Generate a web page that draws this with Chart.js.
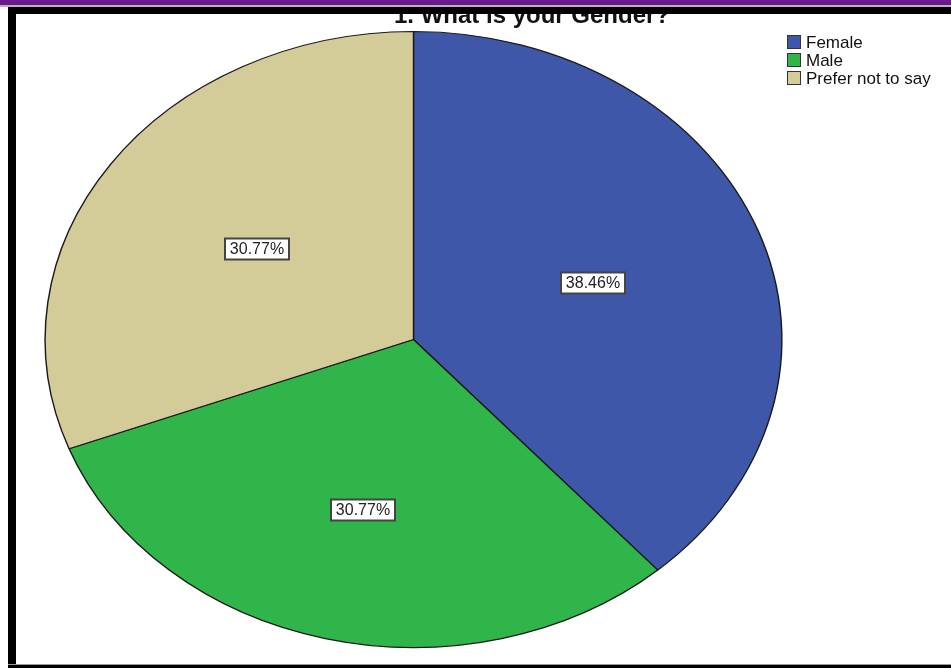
<!DOCTYPE html>
<html lang="en">
<head>
  <meta charset="UTF-8">
  <title>1. What is your Gender?</title>
  <script src="https://cdn.jsdelivr.net/npm/chart.js"></script>
  <style>
    html, body { margin: 0; padding: 0; background: #fff; }
    .marco { position: relative; width: 951px; height: 668px; overflow: hidden; }
    #grafico { position: absolute; left: 0; top: 0; }
    .barra { position: absolute; z-index: 2; }
  </style>
</head>
<body>
  <div class="marco">
    <canvas id="grafico" width="951" height="668"></canvas>
    <div class="barra" style="left:0;top:0;width:951px;height:5px;background:#6b1a8b"></div>
    <div class="barra" style="left:0;top:5px;width:951px;height:2px;background:#b9b0bd"></div>
    <div class="barra" style="left:8px;top:7px;width:943px;height:7px;background:#000"></div>
    <div class="barra" style="left:8px;top:7px;width:8px;height:661px;background:#000"></div>
    <div class="barra" style="left:8px;top:664px;width:943px;height:1px;background:#999"></div>
    <div class="barra" style="left:8px;top:665px;width:943px;height:3px;background:#000"></div>
  </div>

  <script>
    // Datos
    const titulo = '1. What is your Gender?';
    const categorias = ['Female', 'Male', 'Prefer not to say'];
    const valores = [5, 4, 4];
    const colores = ['#3f57a9', '#2fb549', '#d3cc99'];

    const total = valores.reduce((a, b) => a + b, 0);
    const porcentajes = valores.map(v => (v / total * 100).toFixed(2) + '%');

    const estirar = 1.196; // la torta es una elipse
    const fuente = '"Liberation Sans", Arial, sans-serif';

    const elipse = {
      id: 'elipse',
      beforeDatasetsDraw(chart) {
        const arc = chart.getDatasetMeta(0).data[0];
        const ctx = chart.ctx;
        ctx.save();
        ctx.translate(arc.x, arc.y);
        ctx.scale(estirar, 1);
        ctx.translate(-arc.x, -arc.y);
      },
      afterDatasetsDraw(chart) {
        chart.ctx.restore();
      }
    };

    const textos = {
      id: 'textos',
      afterDraw(chart, args, opts) {
        const ctx = chart.ctx;
        const meta = chart.getDatasetMeta(0);

        // etiquetas de porcentaje
        ctx.save();
        ctx.font = '16px ' + fuente;
        ctx.textBaseline = 'middle';
        ctx.textAlign = 'center';
        meta.data.forEach((arc, i) => {
          const a = (arc.startAngle + arc.endAngle) / 2;
          const r = arc.outerRadius * opts.radios[i];
          const x = Math.round(arc.x + Math.cos(a) * r * estirar);
          const y = Math.round(arc.y + Math.sin(a) * r);
          const w = Math.round(ctx.measureText(porcentajes[i]).width + 10);
          const h = 21;
          ctx.fillStyle = '#fff';
          ctx.fillRect(x - w / 2, y - h / 2, w, h);
          ctx.strokeStyle = '#444';
          ctx.lineWidth = 2;
          ctx.strokeRect(x - w / 2, y - h / 2, w, h);
          ctx.fillStyle = '#222';
          ctx.fillText(porcentajes[i], x, y + 1);
        });

        // leyenda
        ctx.font = '17px ' + fuente;
        ctx.textAlign = 'left';
        ctx.lineWidth = 1;
        categorias.forEach((c, i) => {
          const y = 42 + i * 18;
          ctx.fillStyle = colores[i];
          ctx.fillRect(787, y - 7, 14, 14);
          ctx.strokeStyle = '#333';
          ctx.strokeRect(787.5, y - 6.5, 13, 13);
          ctx.fillStyle = '#111';
          ctx.fillText(c, 806, y + 1);
        });

        // titulo
        ctx.font = 'bold 24px ' + fuente;
        ctx.textAlign = 'center';
        ctx.textBaseline = 'alphabetic';
        ctx.fillStyle = '#111';
        ctx.fillText(titulo, 532, 23);
        ctx.restore();
      }
    };

    new Chart(document.getElementById('grafico'), {
      type: 'pie',
      data: {
        labels: categorias,
        datasets: [{
          data: valores,
          backgroundColor: colores,
          borderColor: '#1a1a1a',
          borderWidth: 1.2
        }]
      },
      options: {
        responsive: false,
        animation: false,
        events: [],
        radius: 308,
        layout: { padding: { left: 0, right: 124, top: 11, bottom: 0 } },
        plugins: {
          legend: { display: false },
          tooltip: { enabled: false },
          textos: { radios: [0.52, 0.57, 0.515] }
        }
      },
      plugins: [elipse, textos]
    });
  </script>
</body>
</html>
